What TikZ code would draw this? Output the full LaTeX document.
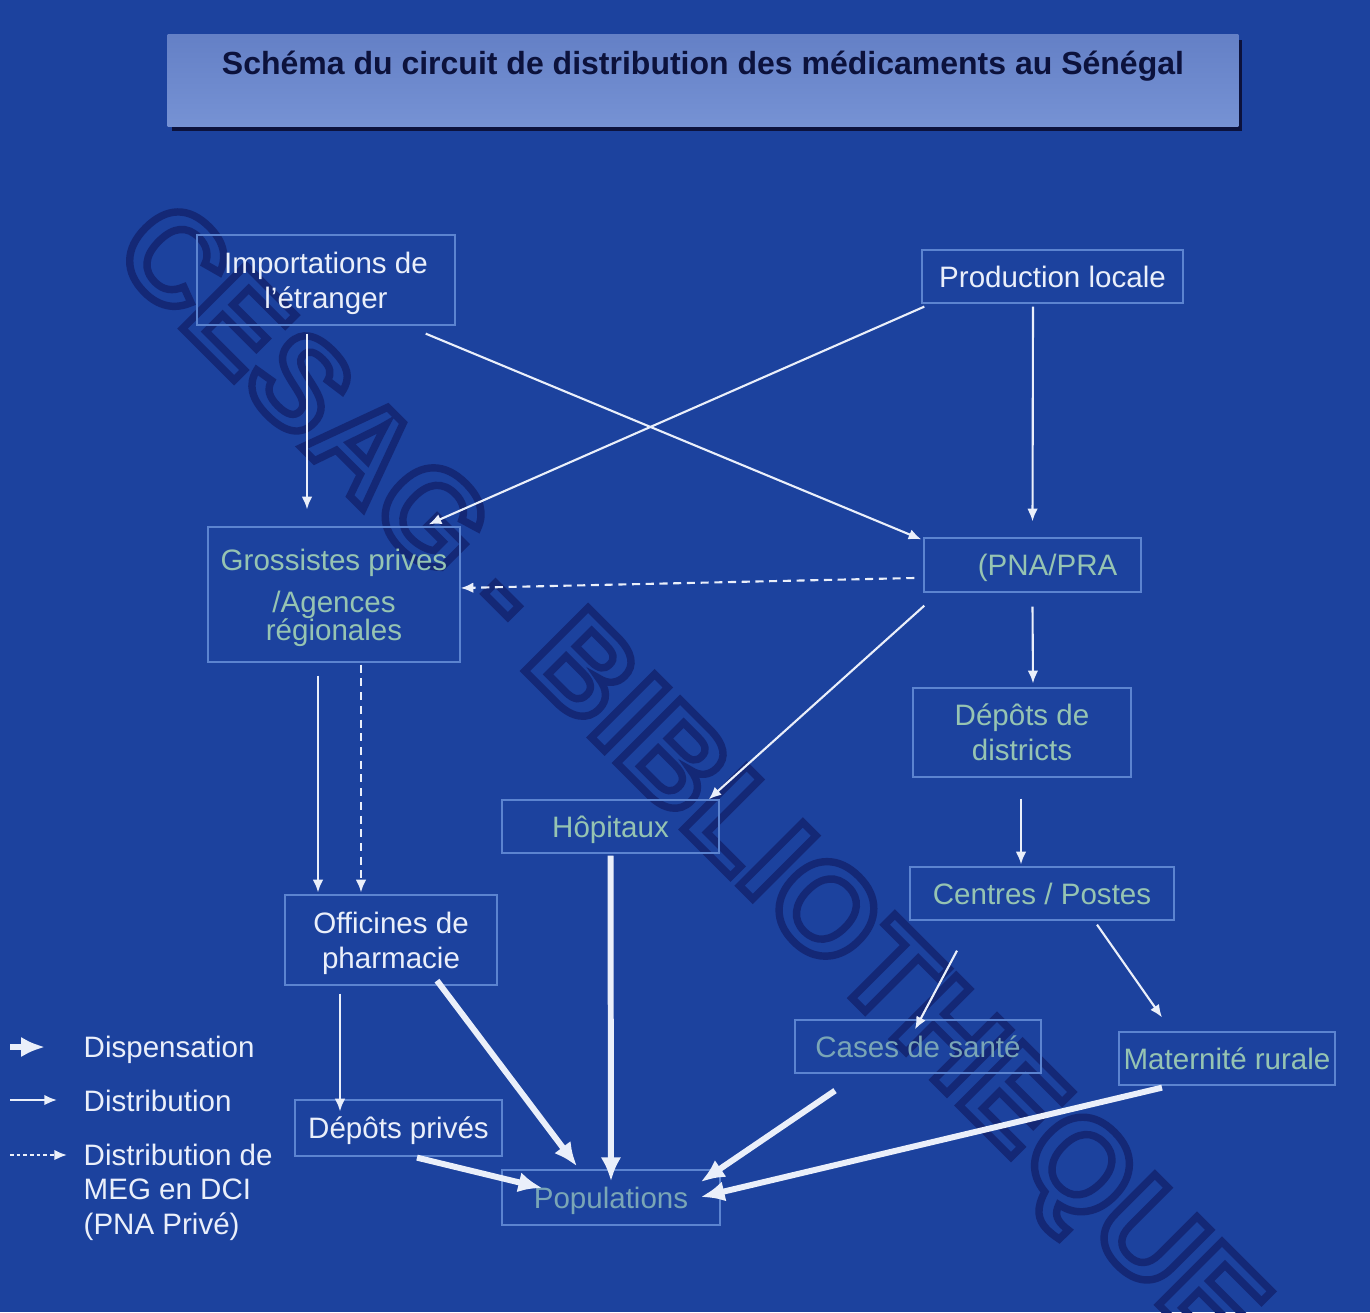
\documentclass[tikz,border=0pt]{standalone}
\usepackage{fontspec}
\setmainfont{Liberation Sans}
\usetikzlibrary{arrows.meta}

\definecolor{fond}{RGB}{28,66,158}
\definecolor{cadre}{RGB}{92,132,208}
\definecolor{clair}{RGB}{234,239,250}
\definecolor{vert}{RGB}{150,196,178}
\definecolor{vertsombre}{RGB}{122,166,182}
\definecolor{encre}{RGB}{12,18,60}
\definecolor{filigrane}{RGB}{20,40,118}

\begin{document}
\begin{tikzpicture}[x=0.01cm,y=-0.01cm]
        \tikzstyle{boite}=[draw=cadre, line width=0.35pt, inner sep=0, align=center, text depth=0pt, font={\fontsize{8.4}{9.9}\selectfont}, text=clair];
        \tikzstyle{vertbox}=[boite, text=vert];
        \tikzstyle{legende}=[inner sep=0, font={\fontsize{8.4}{9.8}\selectfont}, text=clair];
        \tikzstyle{fleche}=[draw=clair, line width=0.6pt, -{Latex[length=3.6pt,width=3pt]}];
        \tikzstyle{tirets}=[fleche, dash pattern=on 2.3pt off 1.6pt];
        \tikzstyle{grosse}=[draw=clair, line width=1.7pt, -{Latex[length=6.8pt,width=5.8pt]}];

        \useasboundingbox (0,0) rectangle (1370,1312);
        \fill[fond] (0,0) rectangle (1370,1312);

        \begin{scope}
          \clip (0,0) rectangle (1370,1312);
          \node[rotate=-45, text=filigrane, inner sep=0, font={\fontsize{37}{37}\selectfont\bfseries}] (filigrane) at (685,785) {\special{pdf:literal direct 1 Tr 2.1 w}CESAG - BIBLIOTHEQUE\special{pdf:literal direct 0 Tr 1 w}};
        \end{scope}

        \fill[encre] (172,40) rectangle (1242,131);
        \node[inner sep=0, minimum width=10.7cm, minimum height=0.91cm, top color={rgb,255:red,100;green,128;blue,198}, middle color={rgb,255:red,68;green,96;blue,176}, bottom color={rgb,255:red,118;green,146;blue,212}] (titre) at (703,80.5) {};
        \node[text=encre, font={\fontsize{9.1}{11}\selectfont\bfseries}] (titretexte) at (703,66) {Schéma du circuit de distribution des médicaments au Sénégal};

        \node[boite, minimum width=2.58cm, minimum height=0.9cm] (imp) at (326,280) {Importations de\\l’étranger};
        \node[boite, minimum width=2.61cm, minimum height=0.53cm] (prod) at (1052.5,276.5) {Production locale};
        \node[vertbox, minimum width=2.52cm, minimum height=1.35cm] (gros) at (334,594.5) {Grossistes prives\\[2pt]/Agences\\[-2pt]régionales};
        \node[vertbox, minimum width=2.17cm, minimum height=0.54cm] (pna) at (1032.5,565) {\hspace{0.3cm}(PNA/PRA};
        \node[vertbox, minimum width=2.18cm, minimum height=0.89cm] (dist) at (1022,732.5) {Dépôts de\\districts};
        \node[vertbox, minimum width=2.17cm, minimum height=0.53cm] (hop) at (610.5,826.5) {Hôpitaux};
        \node[vertbox, minimum width=2.64cm, minimum height=0.53cm] (cent) at (1042,893.5) {Centres / Postes};
        \node[boite, minimum width=2.12cm, minimum height=0.9cm] (off) at (391,940) {Officines de\\pharmacie};
        \node[vertbox, text=vertsombre, minimum width=2.46cm, minimum height=0.53cm] (cases) at (918,1046.5) {Cases de santé};
        \node[vertbox, minimum width=2.16cm, minimum height=0.53cm] (mat) at (1227,1058.5) {Maternité rurale};
        \node[boite, minimum width=2.07cm, minimum height=0.56cm] (depp) at (398.5,1128) {Dépôts privés};
        \node[vertbox, text=vertsombre, minimum width=2.18cm, minimum height=0.55cm] (pop) at (611,1197.5) {Populations};

        \draw[fleche] ([shift={(-19,8)}]imp.south) -- ([shift={(-27,-17)}]gros.north);
        \draw[fleche] ([shift={(-30,8)}]imp.south east) -- ([shift={(-2,2)}]pna.north west);
        \draw[fleche] ([shift={(3,3)}]prod.south west) -- ([shift={(-32,-2)}]gros.north east);
        \draw[fleche] ([shift={(-19.5,3)}]prod.south) -- ([shift={(0,-16)}]pna.north);
        \draw[tirets] ([shift={(-9,13)}]pna.west) -- ([shift={(0,-6.5)}]gros.east);
        \draw[fleche] ([shift={(1,13)}]pna.south west) -- ([shift={(-11,0)}]hop.north east);
        \draw[fleche] ([shift={(0,14)}]pna.south) -- ([shift={(11,-4)}]dist.north);
        \draw[fleche] ([shift={(-1,21)}]dist.south) -- ([shift={(-21,-2)}]cent.north);
        \draw[fleche] ([shift={(-16,13)}]gros.south) -- ([shift={(-73,-2)}]off.north);
        \draw[tirets] ([shift={(27,2)}]gros.south) -- ([shift={(-30,-2)}]off.north);
        \draw[fleche] ([shift={(-85,30)}]cent.south) -- ([shift={(-3,10)}]cases.north);
        \draw[fleche] ([shift={(55,4)}]cent.south) -- ([shift={(-65,-14)}]mat.north);
        \draw[fleche] ([shift={(-51,8)}]off.south) -- ([shift={(-58.5,12)}]depp.north);

        \draw[grosse] ([shift={(46,-5)}]off.south) -- ([shift={(-34,-3)}]pop.north);
        \draw[grosse] ([shift={(0,2)}]hop.south) -- ([shift={(0,12)}]pop.north);
        \draw[grosse] ([shift={(18.5,1)}]depp.south) -- ([shift={(41,-9.5)}]pop.west);
        \draw[grosse] ([shift={(-83,17)}]cases.south) -- ([shift={(-20,-15.5)}]pop.east);
        \draw[grosse] ([shift={(-65,2)}]mat.south) -- ([shift={(-20,-0.5)}]pop.east);

        \coordinate (ldispdebut) at (10,1047);
        \node[legende, anchor=west] (ldisp) at (83,1050) {Dispensation};
        \draw[grosse] (ldispdebut) -- ([shift={(-38,-3)}]ldisp.west);
        \coordinate (ldistrdebut) at (10,1100);
        \node[legende, anchor=west] (ldistr) at (83,1101) {Distribution};
        \draw[fleche] (ldistrdebut) -- ([shift={(-26,-1)}]ldistr.west);
        \coordinate (lmegdebut) at (10,1155);
        \node[legende, anchor=north west, align=left] (lmeg) at (83,1143) {Distribution de\\MEG en DCI\\(PNA Privé)};
        \draw[fleche, dash pattern=on 1pt off 0.9pt] (lmegdebut) -- ([shift={(-16,12)}]lmeg.north west);
\end{tikzpicture}
\end{document}
